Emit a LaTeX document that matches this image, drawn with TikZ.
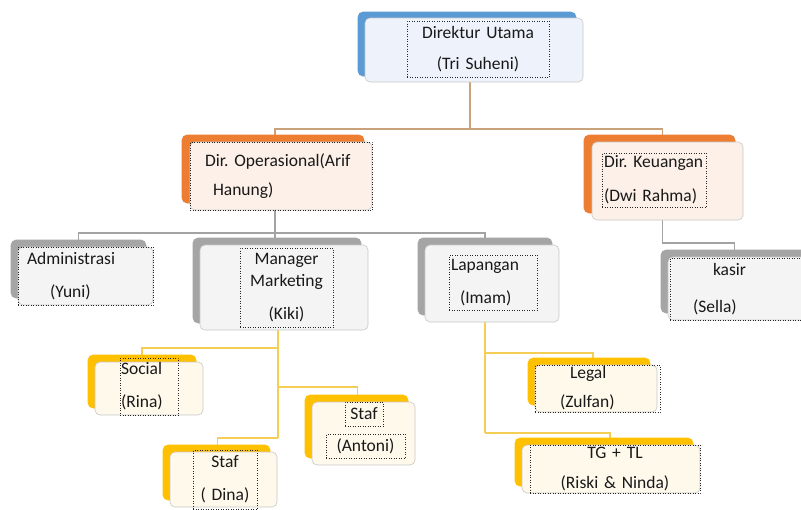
\documentclass[tikz,border=0pt]{standalone}
\usepackage{fontspec}
\setmainfont{Carlito}
\usetikzlibrary{shadows,backgrounds}

\definecolor{bluebk}{HTML}{5B9BD5}
\definecolor{bluefr}{HTML}{EEF3FB}
\definecolor{orangebk}{HTML}{ED7D31}
\definecolor{orangefr}{HTML}{FCF0E8}
\definecolor{graybk}{HTML}{A5A5A5}
\definecolor{grayfr}{HTML}{F4F4F4}
\definecolor{yellowbk}{HTML}{FFC000}
\definecolor{yellowfr}{HTML}{FFF9EC}
\definecolor{tanline}{HTML}{C9A27C}
\definecolor{grayline}{HTML}{A3A3A3}
\definecolor{yellowline}{HTML}{F5CF55}

\tikzset{
  box/.style={rounded corners=5pt, draw=black!22, line width=0.6pt, inner sep=0pt},
  bluebox/.style={box, fill=bluefr, copy shadow={shadow xshift=-7pt, shadow yshift=6pt, fill=bluebk, draw=bluebk}},
  orangebox/.style={box, fill=orangefr, copy shadow={shadow xshift=-8pt, shadow yshift=7pt, fill=orangebk, draw=orangebk}},
  graybox/.style={box, fill=grayfr, copy shadow={shadow xshift=-7pt, shadow yshift=7pt, fill=graybk, draw=graybk}},
  yellowbox/.style={box, fill=yellowfr, copy shadow={shadow xshift=-7pt, shadow yshift=7pt, fill=yellowbk, draw=yellowbk}},
  txt/.style={draw=black!85, dotted, line width=0.5pt, inner xsep=2pt, inner ysep=0pt,
    font=\fontsize{17.5}{22}\selectfont, text=black!90},
  lntan/.style={draw=tanline, line width=1.4pt},
  lngray/.style={draw=grayline, line width=1.4pt},
  lnyellow/.style={draw=yellowline, line width=1.4pt},
}

\begin{document}
\frenchspacing
\begin{tikzpicture}[x=1pt, y=-1pt]
    \useasboundingbox (0,0) rectangle (801,509);
    \clip (0,0) rectangle (801,509);

    % Direktur
    \node[bluebox, minimum width=218pt, minimum height=64pt] (du) at (474,50) {};
    \node[txt, text width=138pt, minimum height=56pt, align=center] (du-t) at (478,49)
        {Direktur Utama\\[9pt](Tri Suheni)};

    % Direksi
    \node[orangebox, minimum width=182pt, minimum height=68pt] (dop) at (281,176) {};
    \node[txt, text width=178pt, minimum height=68pt, align=left] (dop-t) at (281,176)
        {\hspace*{13pt}Dir. Operasional(Arif\\[7pt]\hspace*{21pt}Hanung)};
    \node[orangebox, minimum width=151pt, minimum height=78pt] (dk) at (667.5,181) {};
    \node[txt, text width=100pt, minimum height=54pt, align=left] (dk-t) at (654,180)
        {Dir. Keuangan\\[12pt](Dwi Rahma)};

    % Bawah Dir. Operasional
    \node[graybox, minimum width=135pt, minimum height=58pt] (adm) at (85.5,276) {};
    \node[txt, text width=131pt, minimum height=58pt, align=left] (adm-t) at (85.5,276)
        {\hspace*{7pt}Administrasi\\[11pt]\hspace*{30pt}(Yuni)};
    \node[graybox, minimum width=168pt, minimum height=85pt] (mm) at (284,287.5) {};
    \node[txt, text width=89pt, minimum height=79pt, align=center] (mm-t) at (286.5,287.5)
        {Manager\\Marketing\\[11pt](Kiki)};
    \node[graybox, minimum width=134pt, minimum height=77pt] (lap) at (492,283.5) {};
    \node[txt, text width=84pt, minimum height=55pt, align=left] (lap-t) at (493,282.5)
        {Lapangan\\[11pt]\hspace*{9pt}(Imam)};

    % Bawah Dir. Keuangan
    \node[graybox, minimum width=147pt, minimum height=63pt] (kas) at (741.5,288.5) {};
    \node[txt, text width=141pt, minimum height=62pt, align=left] (kas-t) at (742.5,289)
        {\hspace*{41pt}kasir\\[15pt]\hspace*{21pt}(Sella)};

    % Bawah Manager Marketing
    \node[yellowbox, minimum width=108pt, minimum height=53pt] (soc) at (149,388.5) {};
    \node[txt, text width=56pt, minimum height=57pt, align=left, inner xsep=1pt] (soc-t) at (149,386.5)
        {Social\\[11pt](Rina)};
    \node[yellowbox, minimum width=103pt, minimum height=63pt] (ant) at (363.5,433.5) {};
    \node[txt, text width=34pt, minimum height=24pt, align=center] (ant-t1) at (364,414) {Staf};
    \node[txt, text width=75pt, minimum height=24pt, align=center] (ant-t2) at (365.5,446) {(Antoni)};
    \node[yellowbox, minimum width=107pt, minimum height=55pt] (din) at (223.5,479.5) {};
    \node[txt, text width=60pt, minimum height=59pt, align=center] (din-t) at (225,479.5)
        {Staf\\[11pt]( Dina)};

    % Bawah Lapangan
    \node[yellowbox, minimum width=122pt, minimum height=47pt] (leg) at (596,388.5) {};
    \node[txt, text width=121pt, minimum height=47pt, align=left] (leg-t) at (597.5,388.5)
        {\hspace*{33pt}Legal\\[7pt]\hspace*{23pt}(Zulfan)};
    \node[yellowbox, minimum width=178pt, minimum height=48pt] (tg) at (611,469) {};
    \node[txt, text width=166pt, minimum height=48pt, align=center] (tg-t) at (615,469)
        {TG + TL\\[8pt](Riski \& Ninda)};

    % Garis penghubung
    \coordinate (bus0) at (470,129);
    \coordinate (bus1) at (275,233);
    \coordinate (bus2) at (662,243);
    \coordinate (j-soc) at (278,348);
    \coordinate (j-ant) at (278,387);
    \coordinate (j-din) at (278,438);
    \coordinate (j-leg) at (485,353);
    \coordinate (j-tg) at (485,433);
    \begin{scope}[on background layer]
        \draw[lntan] ([xshift=-4pt]du.south) -- (bus0);
        \draw[lntan] (bus0) -| ([xshift=-6pt]dop.north);
        \draw[lntan] (bus0) -| ([xshift=-5pt]dk.north);

        \draw[lngray] ([xshift=-6pt]dop.south) -- (bus1);
        \draw[lngray] (bus1) -| ([xshift=-7pt]adm.north);
        \draw[lngray] (bus1) -| ([xshift=-7pt]lap.north);
        \draw[lngray] (bus1) -- ([xshift=-9pt]mm.north);
        \draw[lngray] ([xshift=-5pt]dk.south) |- (bus2) -| ([xshift=-7pt]kas.north);

        \draw[lnyellow] ([xshift=-6pt]mm.south) -- (j-din);
        \draw[lnyellow] (j-soc) -| ([xshift=-7pt]soc.north);
        \draw[lnyellow] (j-ant) -| ([xshift=-6pt]ant.north);
        \draw[lnyellow] (j-din) -| ([xshift=-6pt]din.north);

        \draw[lnyellow] ([xshift=-7pt]lap.south) -- (j-tg);
        \draw[lnyellow] (j-leg) -| ([xshift=-3pt]leg.north);
        \draw[lnyellow] (j-tg) -| ([xshift=-1pt]tg.north);
    \end{scope}
\end{tikzpicture}
\end{document}
